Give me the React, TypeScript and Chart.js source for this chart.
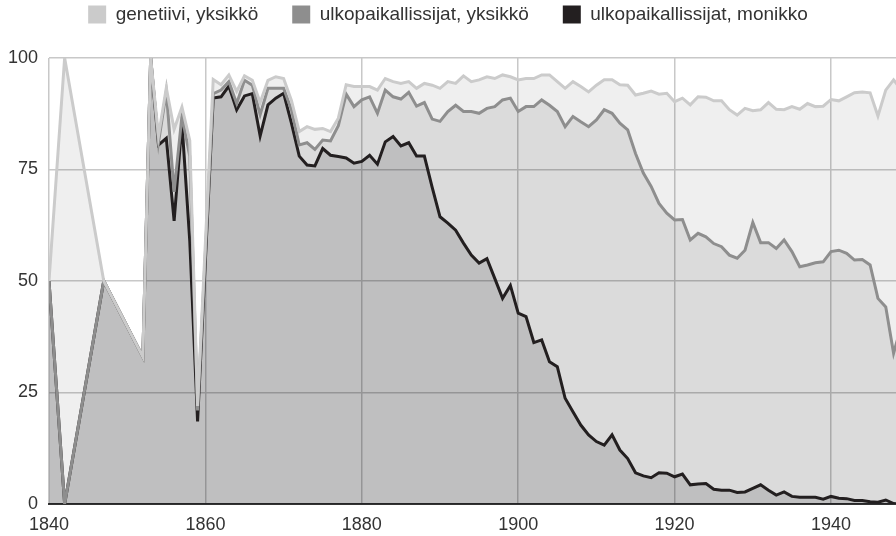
import React, { useEffect, useRef } from "react";
import { Chart, registerables } from "chart.js";

Chart.register(...registerables);

const years = [
  1840, 1842, 1847, 1852, 1853, 1854, 1855, 1856, 1857, 1858, 1859,
  1861, 1862, 1863, 1864, 1865, 1866, 1867, 1868, 1869, 1870,
  1871, 1872, 1873, 1874, 1875, 1876, 1877, 1878, 1879, 1880,
  1881, 1882, 1883, 1884, 1885, 1886, 1887, 1888, 1889, 1890,
  1891, 1892, 1893, 1894, 1895, 1896, 1897, 1898, 1899, 1900,
  1901, 1902, 1903, 1904, 1905, 1906, 1907, 1908, 1909, 1910,
  1911, 1912, 1913, 1914, 1915, 1916, 1917, 1918, 1919, 1920,
  1921, 1922, 1923, 1924, 1925, 1926, 1927, 1928, 1929, 1930,
  1931, 1932, 1933, 1934, 1935, 1936, 1937, 1938, 1939, 1940,
  1941, 1942, 1943, 1944, 1945, 1946, 1947, 1948, 1949,
];

const genetiiviYksikko = [
  50, 100, 50, 33, 100, 82.5, 93.3, 84, 89, 81.5, 22,
  95.2, 94, 96.2, 92.5, 96, 95, 90, 95, 95.8, 95.4,
  90.5, 83.5, 84.6, 84, 84.2, 83.5, 86.5, 94, 93.6, 93.6,
  93.6, 92.8, 95.4, 94.7, 94.3, 94.7, 93.2, 94.3, 93.9, 93.2,
  94.7, 94.3, 96, 94.7, 95.1, 95.8, 95.4, 96.2, 95.8, 95.1,
  95.4, 95.4, 96.2, 96.2, 94.7, 93.2, 94.7, 93.6, 92.4, 93.9,
  95.1, 95.1, 94, 93.9, 91.7, 92.1, 92.6, 91.9, 92.1, 90.2,
  91, 89.5, 91.3, 91.2, 90.4, 90.4, 88.4, 87.2, 88.7, 88.2,
  88.4, 90, 88.5, 88.4, 89.1, 88.5, 89.8, 89.1, 89.2, 90.7,
  90.4, 91.3, 92.2, 92.4, 92.2, 87, 92.8, 95.1, 92.8,
];

const ulkopaikallissijatYksikko = [
  50, 0, 50, 33, 100, 81, 92.5, 70, 87, 78, 21,
  92, 92.8, 94.7, 89.8, 95, 93.9, 87.3, 93.2, 93.2, 93.2,
  88.4, 80.5, 81, 79.5, 81.6, 81.4, 84.8, 91.9, 89.1, 90.6,
  91.3, 87.6, 92.8, 91.3, 90.8, 92.3, 89.2, 90, 86.3, 85.8,
  88, 89.4, 88, 88, 87.6, 88.7, 89.1, 90.6, 91, 88,
  89.1, 89.1, 90.6, 89.4, 88, 84.6, 86.9, 85.7, 84.6, 86.1,
  88.4, 87.6, 85.4, 83.9, 78.6, 74.2, 71.2, 67.4, 65.2, 63.7,
  63.8, 59.2, 60.7, 59.9, 58.4, 57.7, 55.8, 55.1, 56.9, 63.1,
  58.6, 58.6, 57.3, 59.2, 56.6, 53.2, 53.6, 54.1, 54.3, 56.6,
  56.9, 56.2, 54.7, 54.8, 53.6, 46.1, 44.2, 33.8, 40,
];

const ulkopaikallissijatMonikko = [
  50, 0, 50, 33, 100, 80.5, 82, 63.5, 85.5, 59, 18.5,
  91, 91.3, 93.7, 88.4, 91.5, 92, 82.5, 89.5, 91, 92.1,
  85.4, 78, 76, 75.8, 79.7, 78.2, 77.9, 77.6, 76.4, 76.8,
  78.2, 76.2, 81.2, 82.4, 80.3, 81, 78, 78, 71, 64.4,
  63, 61.4, 58.5, 55.8, 54, 55, 50.6, 46.1, 49, 42.8,
  42, 36.2, 36.8, 31.9, 30.8, 23.7, 20.7, 17.7, 15.5, 14,
  13.2, 15.5, 12.1, 10.2, 7, 6.3, 5.9, 7, 6.9, 6.1,
  6.7, 4.3, 4.5, 4.6, 3.3, 3.1, 3.1, 2.6, 2.7, 3.5,
  4.3, 3.1, 2, 2.7, 1.7, 1.5, 1.5, 1.5, 1.1, 1.7,
  1.3, 1.2, 0.8, 0.8, 0.5, 0.4, 0.9, 0.1, 0,
];

const seriesLabels = [
  "genetiivi, yksikkö",
  "ulkopaikallissijat, yksikkö",
  "ulkopaikallissijat, monikko",
];

const xTickValues = [1840, 1860, 1880, 1900, 1920, 1940];
const yTickValues = [0, 25, 50, 75, 100];

const lineColors = ["#cbcbcb", "#8e8e8e", "#231f20"];
const fillColors = [
  "rgba(0,0,0,0.063)",
  "rgba(0,0,0,0.088)",
  "rgba(0,0,25,0.13)",
];

const FONT = "'Liberation Sans', Arial, sans-serif";

const legendSpacer = {
  id: "legendSpacer",
  beforeInit(chart: any) {
    const legend = chart.legend;
    if (!legend) return;
    const origFit = legend.fit;
    legend.fit = function () {
      origFit.call(this);
      this.height += 24;
    };
  },
};

export default function App() {
  const canvasRef = useRef<HTMLCanvasElement | null>(null);

  useEffect(() => {
    if (!canvasRef.current) return;
    const seriesValues = [genetiiviYksikko, ulkopaikallissijatYksikko, ulkopaikallissijatMonikko];
    const chart = new Chart(canvasRef.current, {
      type: "line",
      data: {
        datasets: seriesValues.map((vals, i) => ({
          label: seriesLabels[i],
          data: years.map((x, j) => ({ x, y: vals[j] })),
          borderColor: lineColors[i],
          backgroundColor: fillColors[i],
          borderWidth: 3,
          pointRadius: 0,
          pointHoverRadius: 0,
          tension: 0,
          fill: "origin",
          borderJoinStyle: "miter" as const,
        })),
      },
      options: {
        animation: false,
        responsive: false,
        maintainAspectRatio: false,
        events: [],
        layout: { padding: { top: -29, left: 0, right: 0, bottom: 0 } },
        plugins: {
          filler: { drawTime: "beforeDatasetsDraw" },
          tooltip: { enabled: false },
          legend: {
            position: "top",
            align: "center",
            labels: {
              boxWidth: 18,
              boxHeight: 18,
              padding: 34,
              color: "#333333",
              font: { family: FONT, size: 19 },
              generateLabels: (c: any) =>
                c.data.datasets.map((ds: any, i: number) => ({
                  text: ds.label,
                  fillStyle: lineColors[i],
                  strokeStyle: lineColors[i],
                  lineWidth: 0,
                  hidden: false,
                  datasetIndex: i,
                  fontColor: "#333333",
                })),
            },
          },
        },
        scales: {
          x: {
            type: "linear",
            min: 1840,
            max: 1948.31,
            afterBuildTicks: (scale: any) => {
              scale.ticks = xTickValues.map((v) => ({ value: v }));
            },
            afterFit: (scale: any) => {
              scale.height = 32;
            },
            ticks: {
              autoSkip: false,
              maxRotation: 0,
              padding: 10,
              color: "#333333",
              font: { family: FONT, size: 18 },
              callback: (v: any) => String(v),
            },
            grid: { color: "#c8c8c8", lineWidth: 1.5, drawTicks: false },
            border: { display: true, color: "#333333", width: 2 },
          },
          y: {
            type: "linear",
            min: 0,
            max: 100,
            afterBuildTicks: (scale: any) => {
              scale.ticks = yTickValues.map((v) => ({ value: v }));
            },
            afterFit: (scale: any) => {
              scale.width = 49;
            },
            ticks: {
              padding: 11,
              color: "#333333",
              font: { family: FONT, size: 18 },
              callback: (v: any) => String(v),
            },
            grid: { color: "#c8c8c8", lineWidth: 1.5, drawTicks: false },
            border: { display: false },
          },
        },
      },
      plugins: [legendSpacer],
    } as any);
    return () => chart.destroy();
  }, []);

  return (
    <div style={{ position: "absolute", left: 0, top: 0, width: 896, height: 536, background: "#ffffff" }}>
      <canvas ref={canvasRef} width={896} height={536} style={{ display: "block", width: 896, height: 536 }} />
    </div>
  );
}
